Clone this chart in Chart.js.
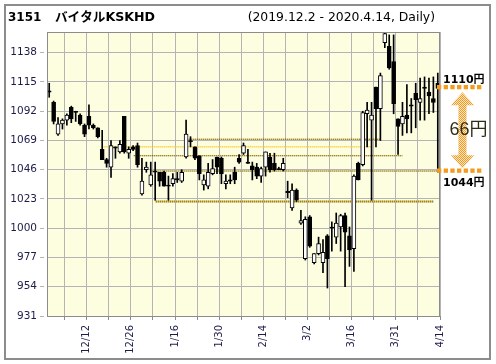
<!DOCTYPE html>
<html>
<head>
<meta charset="utf-8">
<script src="https://cdn.jsdelivr.net/npm/chart.js@4.4.1/dist/chart.umd.min.js"></script>
<style>
html, body { margin: 0; padding: 0; background: #fff; }
canvas { display: block; }
</style>
</head>
<body>
<canvas id="chart" width="496" height="364"></canvas>
<script>
// trading days 2019.12.2 - 2020.4.14
const dates = [
    '12/2', '12/3', '12/4', '12/5', '12/6', '12/9', '12/10', '12/11', '12/12', '12/13',
    '12/16', '12/17', '12/18', '12/19', '12/20', '12/23', '12/24', '12/25', '12/26', '12/27',
    '12/30', '1/6', '1/7', '1/8', '1/9', '1/10', '1/14', '1/15', '1/16', '1/17',
    '1/20', '1/21', '1/22', '1/23', '1/24', '1/27', '1/28', '1/29', '1/30', '1/31',
    '2/3', '2/4', '2/5', '2/6', '2/7', '2/10', '2/12', '2/13', '2/14', '2/17',
    '2/18', '2/19', '2/20', '2/21', '2/25', '2/26', '2/27', '2/28', '3/2', '3/3',
    '3/4', '3/5', '3/6', '3/9', '3/10', '3/11', '3/12', '3/13', '3/16', '3/17',
    '3/18', '3/19', '3/23', '3/24', '3/25', '3/26', '3/27', '3/30', '3/31', '4/1',
    '4/2', '4/3', '4/6', '4/7', '4/8', '4/9', '4/10', '4/13', '4/14'
]
const opens = [
    1108, 1099, 1074, 1082, 1085, 1095, 1092, 1089, 1081, 1088,
    1081, 1079, 1062, 1054, 1048, 1064, 1060, 1088, 1059, 1064,
    1065, 1027, 1046, 1034, 1045, 1044, 1044, 1034, 1035, 1039,
    1037, 1056, 1069, 1064, 1057, 1034, 1033, 1043, 1056, 1055,
    1035, 1038, 1044, 1055, 1059, 1052, 1049, 1048, 1041, 1048,
    1056, 1051, 1047, 1046, 1029, 1016, 1030, 1004, 976, 1009,
    973, 980, 973, 994, 1001, 993, 1001, 1010, 994, 984,
    1051, 1050, 1090, 1085, 1111, 1094, 1146, 1143, 1131, 1086,
    1082, 1089, 1097, 1106, 1099, 1111, 1107, 1102, 1114
]
const highs = [
    1114, 1100, 1087, 1086, 1090, 1096, 1092, 1090, 1082, 1097,
    1082, 1079, 1077, 1055, 1069, 1064, 1069, 1088, 1064, 1065,
    1067, 1055, 1052, 1052, 1052, 1044, 1045, 1041, 1043, 1044,
    1046, 1085, 1072, 1064, 1057, 1042, 1051, 1054, 1056, 1056,
    1042, 1042, 1048, 1058, 1067, 1062, 1052, 1051, 1048, 1060,
    1059, 1059, 1048, 1055, 1037, 1035, 1031, 1014, 1009, 1010,
    980, 993, 991, 995, 1005, 1012, 1011, 1012, 1001, 1042,
    1052, 1092, 1099, 1099, 1111, 1122, 1154, 1152, 1152, 1086,
    1099, 1113, 1102, 1114, 1118, 1119, 1118, 1119, 1122
]
const lows = [
    1103, 1082, 1073, 1078, 1081, 1083, 1084, 1081, 1072, 1078,
    1078, 1071, 1054, 1048, 1040, 1055, 1059, 1059, 1055, 1061,
    1048, 1026, 1044, 1033, 1022, 1033, 1033, 1022, 1033, 1036,
    1036, 1055, 1064, 1054, 1038, 1030, 1031, 1042, 1043, 1035,
    1031, 1035, 1035, 1051, 1058, 1051, 1038, 1039, 1036, 1041,
    1044, 1045, 1046, 1045, 1024, 1014, 1021, 1003, 975, 985,
    972, 979, 965, 953, 982, 988, 982, 954, 970, 966,
    1038, 1049, 1064, 1022, 1064, 1069, 1142, 1125, 1090, 1058,
    1073, 1075, 1075, 1079, 1085, 1085, 1090, 1091, 1044
]
const closes = [
    1107, 1084, 1082, 1085, 1089, 1086, 1091, 1082, 1074, 1081,
    1079, 1072, 1054, 1051, 1065, 1063, 1066, 1060, 1062, 1062,
    1050, 1037, 1048, 1042, 1044, 1037, 1033, 1033, 1039, 1038,
    1044, 1074, 1068, 1055, 1043, 1038, 1044, 1047, 1048, 1043,
    1037, 1037, 1038, 1052, 1065, 1051, 1046, 1041, 1047, 1060,
    1046, 1046, 1046, 1051, 1028, 1030, 1022, 1006, 1007, 986,
    980, 988, 981, 976, 1000, 1004, 1010, 997, 983, 1041,
    1038, 1091, 1093, 1089, 1094, 1120, 1153, 1126, 1098, 1080,
    1088, 1086, 1096, 1101, 1102, 1110, 1104, 1099, 1110
]
const yTicks = [931, 954, 977, 1000, 1023, 1046, 1069, 1092, 1115, 1138]
const yMin = 931
const yMax = 1154.3

// dotted price levels drawn inside the plot: value, first day, last day
const levelValues = [1070, 1064, 1057, 1045, 1021]
const levelFrom = [31, 12, 19, 23, 24]
const levelTo = [75, 73, 80, 88, 87]

// range marked on the right
const rangeTop = 1110
const rangeBottom = 1044

const titleCode = '3151'
const titleName = 'バイタルKSKHD'
const titleRight = '(2019.12.2 - 2020.4.14, Daily)'

const bodies = dates.map((d, i) => [opens[i], closes[i]])
const wicks = dates.map((d, i) => [lows[i], highs[i]])
const bodyColors = dates.map((d, i) => closes[i] >= opens[i] ? '#ffffff' : '#000000')

const levelStyles = [
    { a: '#e8bd00', b: '#444444', w: 1 },
    { a: '#f2c200', b: '#f7e070', w: 1 },
    { a: '#e8bd00', b: '#444444', w: 1 },
    { a: '#d9b300', b: '#333333', w: 1 },
    { a: '#f0c400', b: '#555555', w: 2 }
]

const levelSets = []
levelValues.forEach((v, k) => {
    const pts = [{ x: dates[levelFrom[k]], y: v }, { x: dates[levelTo[k]], y: v }]
    const st = levelStyles[k]
    levelSets.push({
        type: 'line', data: pts, borderColor: st.a, borderWidth: st.w,
        borderDash: [1, 1], borderDashOffset: 0, pointRadius: 0, fill: false
    })
    levelSets.push({
        type: 'line', data: pts, borderColor: st.b, borderWidth: st.w,
        borderDash: [1, 1], borderDashOffset: 1, pointRadius: 0, fill: false
    })
})

const gridGray = '#b4b4b4'
const labelColor = '#1c1c48'

const framePlugin = {
    id: 'frame',
    beforeDraw(chart) {
        const { ctx, chartArea: a } = chart
        ctx.save()
        ctx.fillStyle = '#ffffff'
        ctx.fillRect(0, 0, chart.width, chart.height)
        ctx.strokeStyle = '#8c8c8c'
        ctx.lineWidth = 2
        ctx.strokeRect(5, 5, 485, 354)
        ctx.fillStyle = '#fdfde0'
        ctx.fillRect(a.left, a.top, a.right - a.left, a.bottom - a.top)
        ctx.restore()
    },
    afterDraw(chart) {
        const { ctx, chartArea: a } = chart
        const y = chart.scales.y
        ctx.save()
        // plot border
        ctx.strokeStyle = '#8c8c8c'
        ctx.lineWidth = 1
        ctx.strokeRect(Math.round(a.left) + 0.5, Math.round(a.top) + 0.5,
            Math.round(a.right - a.left) - 1, Math.round(a.bottom - a.top))

        // titles
        ctx.fillStyle = '#000'
        ctx.textBaseline = 'alphabetic'
        ctx.textAlign = 'left'
        ctx.font = 'bold 12px "DejaVu Sans"'
        ctx.fillText(titleCode, 8, 20.5)
        ctx.font = 'bold 12.6px "DejaVu Sans", "Noto Sans CJK JP"'
        ctx.fillText(titleName, 55, 20.5, 100)
        ctx.font = '12.4px "DejaVu Sans"'
        ctx.textAlign = 'right'
        ctx.fillText(titleRight, 435, 20.5)

        // range marker
        const pTop = y.getPixelForValue(rangeTop)
        const pBot = y.getPixelForValue(rangeBottom)
        ctx.fillStyle = '#f49b1c'
        for (let k = 0; k < 7; k++) {
            ctx.fillRect(437 + k * 6.67, Math.round(pTop) - 3, 4.3, 4.3)
            ctx.fillRect(437 + k * 6.67, Math.round(pBot) - 3.5, 4.3, 4.3)
        }
        const pc = document.createElement('canvas')
        pc.width = 2
        pc.height = 2
        const pctx = pc.getContext('2d')
        pctx.fillStyle = '#fde6c4'
        pctx.fillRect(0, 0, 2, 2)
        pctx.fillStyle = '#f29a22'
        pctx.fillRect(0, 0, 1, 1)
        pctx.fillRect(1, 1, 1, 1)
        ctx.fillStyle = ctx.createPattern(pc, 'repeat')
        const cx = 462.5, t = pTop + 4, b = pBot - 4
        ctx.beginPath()
        ctx.moveTo(cx, t)
        ctx.lineTo(cx + 11.5, t + 13)
        ctx.lineTo(cx + 4, t + 13)
        ctx.lineTo(cx + 4, b - 13)
        ctx.lineTo(cx + 11.5, b - 13)
        ctx.lineTo(cx, b)
        ctx.lineTo(cx - 11.5, b - 13)
        ctx.lineTo(cx - 4, b - 13)
        ctx.lineTo(cx - 4, t + 13)
        ctx.lineTo(cx - 11.5, t + 13)
        ctx.closePath()
        ctx.fill()

        ctx.textAlign = 'left'
        ctx.fillStyle = '#000'
        ctx.font = 'bold 11px "DejaVu Sans", "Noto Sans CJK JP"'
        ctx.fillText(rangeTop + '円', 443, 82.5)
        ctx.fillText(rangeBottom + '円', 443, 185.5)
        ctx.font = '18px "Liberation Sans", "Noto Sans CJK JP"'
        ctx.fillStyle = '#2e2e16'
        ctx.textAlign = 'center'
        ctx.fillText((rangeTop - rangeBottom) + '円', 468.5, 135)
        ctx.restore()
    }
}

new Chart(document.getElementById('chart'), {
    type: 'bar',
    data: {
        labels: dates,
        datasets: [
            {
                data: bodies,
                backgroundColor: bodyColors,
                borderColor: '#000000',
                borderWidth: 1,
                borderSkipped: false,
                barThickness: 4,
                grouped: false
            },
            {
                data: wicks,
                backgroundColor: '#000000',
                borderWidth: 0,
                barThickness: 1,
                grouped: false
            },
            ...levelSets
        ]
    },
    options: {
        responsive: false,
        maintainAspectRatio: false,
        animation: false,
        layout: { padding: { left: 0, top: 32, right: 56, bottom: 0 } },
        plugins: {
            legend: { display: false },
            tooltip: { enabled: false }
        },
        scales: {
            x: {
                border: { display: false },
                grid: {
                    offset: true,
                    color: c => (c.index === undefined || c.index % 5 === 4) ? gridGray : 'rgba(0,0,0,0)',
                    tickColor: c => (c.index === undefined || c.index % 5 === 4) ? '#8c8c8c' : 'rgba(0,0,0,0)',
                    borderDash: [4, 3],
                    tickLength: 4
                },
                ticks: {
                    autoSkip: false,
                    minRotation: 90,
                    maxRotation: 90,
                    padding: 5,
                    labelOffset: 2.2,
                    color: labelColor,
                    font: { family: 'DejaVu Sans', size: 10 },
                    callback: (v, i) => i % 10 === 8 ? dates[i] : ''
                },
                afterFit: s => { s.height = 48 }
            },
            y: {
                min: yMin,
                max: yMax,
                border: { display: false },
                grid: {
                    color: gridGray,
                    tickColor: gridGray,
                    borderDash: [4, 3],
                    tickBorderDash: [4, 3],
                    tickLength: 7
                },
                ticks: {
                    padding: 3,
                    color: labelColor,
                    font: { family: 'DejaVu Sans', size: 10.5 },
                    callback: v => String(v)
                },
                afterBuildTicks: s => { s.ticks = yTicks.map(v => ({ value: v })) },
                afterFit: s => { s.width = 47 }
            }
        }
    },
    plugins: [framePlugin]
})
</script>
</body>
</html>
